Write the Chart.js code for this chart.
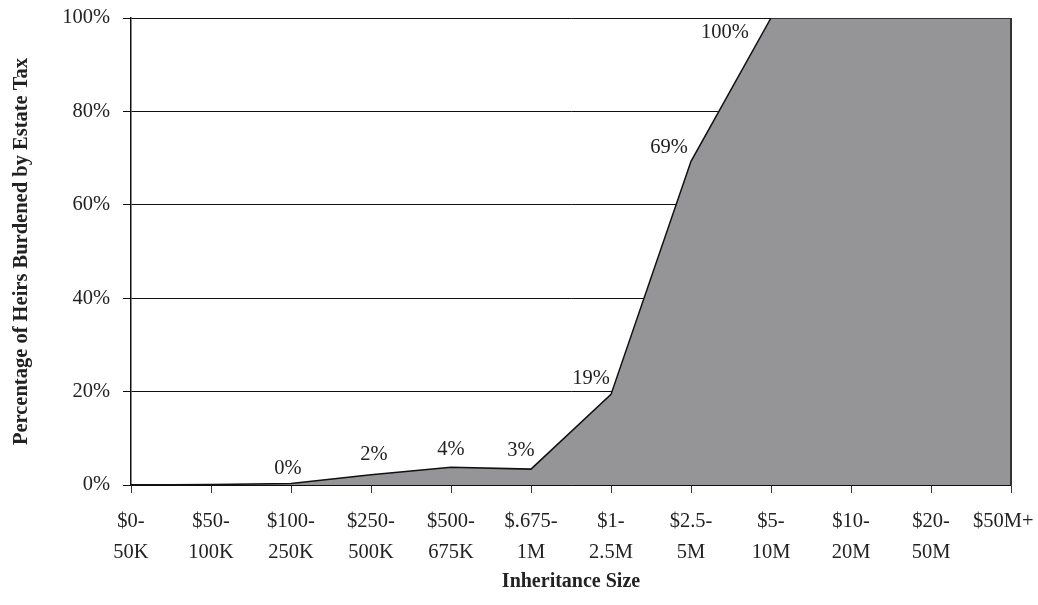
<!DOCTYPE html>
<html>
<head>
<meta charset="utf-8">
<script src="https://cdn.jsdelivr.net/npm/chart.js@4/dist/chart.umd.min.js"></script>
<style>
  html, body { margin: 0; padding: 0; background: #fff; }
  #wrap { width: 1038px; height: 605px; }
</style>
</head>
<body>
<div id="wrap"><canvas id="chart" width="1038" height="605"></canvas></div>
<script>
// categories on the x axis (two-line labels)
const categories = [
  ['$0-', '50K'], ['$50-', '100K'], ['$100-', '250K'], ['$250-', '500K'],
  ['$500-', '675K'], ['$.675-', '1M'], ['$1-', '2.5M'], ['$2.5-', '5M'],
  ['$5-', '10M'], ['$10-', '20M'], ['$20-', '50M'], ['$50M+']
];
// share of heirs burdened, in percent
const heirsBurdened = [0, 0.1, 0.3, 2.2, 3.8, 3.4, 19.4, 69.3, 100, 100, 100, 100];
// which points get a value label
const labelled = [false, false, true, true, true, true, true, true, true, false, false, false];
const yTicks = [0, 20, 40, 60, 80, 100];

// where each label sits relative to its point (px)
const labelOffsets = [
  [0, 0], [0, 0], [-3, -15], [3, -20], [0, -18], [-10, -19],
  [-20, -16], [-22, -14], [-46, 15], [0, 0], [0, 0], [0, 0]
];

const serif = "'Liberation Serif', 'Times New Roman', serif";

const valueLabels = {
  id: 'valueLabels',
  afterDatasetsDraw(chart) {
    const ctx = chart.ctx;
    const meta = chart.getDatasetMeta(0);
    ctx.save();
    ctx.font = '20.5px ' + serif;
    ctx.fillStyle = '#222';
    ctx.textAlign = 'center';
    ctx.textBaseline = 'middle';
    meta.data.forEach((pt, i) => {
      if (!labelled[i]) return;
      const off = labelOffsets[i];
      ctx.fillText(Math.round(heirsBurdened[i]) + '%', pt.x + off[0], pt.y + off[1]);
    });
    ctx.restore();
  }
};

const rightBorder = {
  id: 'rightBorder',
  afterDraw(chart) {
    const a = chart.chartArea;
    const ctx = chart.ctx;
    ctx.save();
    ctx.strokeStyle = '#333';
    ctx.lineWidth = 2;
    ctx.beginPath();
    ctx.moveTo(a.right, a.top);
    ctx.lineTo(a.right, a.bottom);
    ctx.stroke();
    ctx.restore();
  }
};

new Chart(document.getElementById('chart'), {
  type: 'line',
  data: {
    labels: categories,
    datasets: [{
      data: heirsBurdened,
      borderColor: '#111',
      borderWidth: 1.5,
      backgroundColor: '#959597',
      fill: 'origin',
      tension: 0,
      pointRadius: 0
    }]
  },
  options: {
    responsive: false,
    animation: false,
    layout: { padding: { top: 18, right: 27, bottom: 0, left: 0 } },
    plugins: {
      legend: { display: false },
      tooltip: { enabled: false }
    },
    scales: {
      x: {
        offset: false,
        afterFit(scale) {
          scale.height = 120;
          scale.paddingLeft = 0;
          scale.paddingRight = 0;
        },
        grid: { drawOnChartArea: false, drawTicks: true, tickLength: 8, color: '#333' },
        border: { display: true, color: '#111', width: 1.5 },
        ticks: {
          autoSkip: false,
          maxRotation: 0,
          padding: 13.5,
          color: '#222',
          font: { family: serif, size: 20.5, lineHeight: 1.51 },
          // last label sits a little left of its tick so it stays on the canvas
          callback(value, index) {
            const lbl = categories[index];
            return index === categories.length - 1 ? lbl[0] + '   ' : lbl;
          }
        },
        title: {
          display: true,
          text: 'Inheritance Size',
          color: '#222',
          font: { family: serif, size: 20, weight: 'bold' },
          padding: { top: 0, bottom: 11 }
        }
      },
      y: {
        min: 0,
        max: 100,
        afterFit(scale) {
          scale.width = 131;
          scale.paddingTop = 0;
          scale.paddingBottom = 0;
        },
        afterBuildTicks(scale) { scale.ticks = yTicks.map(v => ({ value: v })); },
        grid: { color: '#111', lineWidth: 1, tickLength: 8, drawTicks: true },
        border: { display: true, color: '#111', width: 1.5 },
        ticks: {
          padding: 13,
          color: '#222',
          font: { family: serif, size: 20.5 },
          callback: v => v + '%'
        },
        title: {
          display: true,
          text: 'Percentage of Heirs Burdened by Estate Tax',
          color: '#222',
          font: { family: serif, size: 20.5, weight: 'bold' },
          padding: { top: 9, bottom: 0 }
        }
      }
    }
  },
  plugins: [valueLabels, rightBorder]
});
</script>
</body>
</html>
